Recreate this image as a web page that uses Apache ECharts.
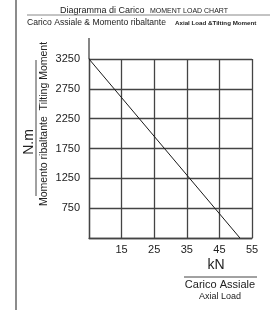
<!DOCTYPE html>
<html>
<head>
<meta charset="utf-8">
<script src="https://cdn.jsdelivr.net/npm/echarts@6/dist/echarts.min.js"></script>
<style>
  html, body { margin: 0; padding: 0; background: #fff; }
  #chart { width: 279px; height: 310px; }
</style>
</head>
<body>
<div id="chart"></div>
<script>
// axial load (kN) vs tilting moment (N.m)
const loadKN = [5, 51.3];
const momentNm = [3250, 250];
const xTicks = [15, 25, 35, 45, 55];
const yTicks = [750, 1250, 1750, 2250, 2750, 3250];

const FONT = "Liberation Sans, Arial, sans-serif";
const INK = "#222";
const GRID_LINE = "#444";

const chart = echarts.init(document.getElementById("chart"), null, { renderer: "canvas" });

const gridBox = { left: 89, top: 59, right: 27, bottom: 72 };

chart.setOption({
  animation: false,
  backgroundColor: "#fff",
  grid: gridBox,
  xAxis: {
    type: "value",
    min: 5,
    max: 55,
    interval: 10,
    axisLine: { show: true, lineStyle: { color: GRID_LINE, width: 1.3 } },
    axisTick: { show: false },
    splitLine: { show: true, lineStyle: { color: GRID_LINE, width: 1.3 } },
    axisLabel: {
      color: INK,
      fontFamily: FONT,
      fontSize: 11,
      margin: 6,
      formatter: (v) => (xTicks.includes(v) ? String(v) : ""),
    },
  },
  yAxis: {
    type: "value",
    min: 250,
    max: 3250,
    interval: 500,
    axisLine: { show: true, lineStyle: { color: GRID_LINE, width: 1.3 } },
    axisTick: { show: false },
    splitLine: { show: true, lineStyle: { color: GRID_LINE, width: 1.3 } },
    axisLabel: {
      color: INK,
      fontFamily: FONT,
      fontSize: 11,
      margin: 9,
      formatter: (v) => (yTicks.includes(v) ? String(v) : ""),
    },
  },
  series: [
    {
      type: "line",
      data: loadKN.map((x, i) => [x, momentNm[i]]),
      showSymbol: false,
      lineStyle: { color: "#1a1a1a", width: 1 },
    },
  ],
  graphic: [
    // outer frame line on the left
    { type: "line", shape: { x1: 16, y1: 0, x2: 16, y2: 310 }, style: { stroke: "#666", lineWidth: 1.5 } },
    // rule under the header
    { type: "line", shape: { x1: 27, y1: 15, x2: 270, y2: 15 }, style: { stroke: "#888", lineWidth: 1 } },
    // y axis extension above the grid
    { type: "line", shape: { x1: 89, y1: 38, x2: 89, y2: 59 }, style: { stroke: GRID_LINE, lineWidth: 1.3 } },
    // header
    { type: "text", x: 60, y: 11, style: { text: "Diagramma di Carico", font: `9px ${FONT}`, fill: INK, verticalAlign: "middle" } },
    { type: "text", x: 150, y: 11, style: { text: "MOMENT LOAD CHART", font: `7px ${FONT}`, fill: INK, verticalAlign: "middle" } },
    { type: "text", x: 27, y: 23, style: { text: "Carico Assiale & Momento ribaltante", font: `8.6px ${FONT}`, fill: INK, verticalAlign: "middle" } },
    { type: "text", x: 175, y: 23, style: { text: "Axial Load &Tilting Moment", font: `bold 6.2px ${FONT}`, fill: INK, verticalAlign: "middle" } },
    // y axis title
    { type: "text", x: 29, y: 142, rotation: Math.PI / 2, style: { text: "N.m", font: `14px ${FONT}`, fill: INK, align: "center", verticalAlign: "middle" } },
    { type: "line", shape: { x1: 36, y1: 60, x2: 36, y2: 196 }, style: { stroke: "#444", lineWidth: 1 } },
    { type: "text", x: 44, y: 124, rotation: Math.PI / 2, style: { text: "Momento ribaltante  Tilting Moment", font: `10.5px ${FONT}`, fill: INK, align: "center", verticalAlign: "middle" } },
    // x axis title
    { type: "text", x: 216, y: 265, style: { text: "kN", font: `14px ${FONT}`, fill: INK, align: "center", verticalAlign: "middle" } },
    { type: "line", shape: { x1: 184, y1: 277, x2: 257, y2: 277 }, style: { stroke: "#444", lineWidth: 1 } },
    { type: "text", x: 220, y: 285, style: { text: "Carico Assiale", font: `11px ${FONT}`, fill: INK, align: "center", verticalAlign: "middle" } },
    { type: "text", x: 220, y: 297, style: { text: "Axial Load", font: `9px ${FONT}`, fill: INK, align: "center", verticalAlign: "middle" } },
  ],
});
</script>
</body>
</html>
